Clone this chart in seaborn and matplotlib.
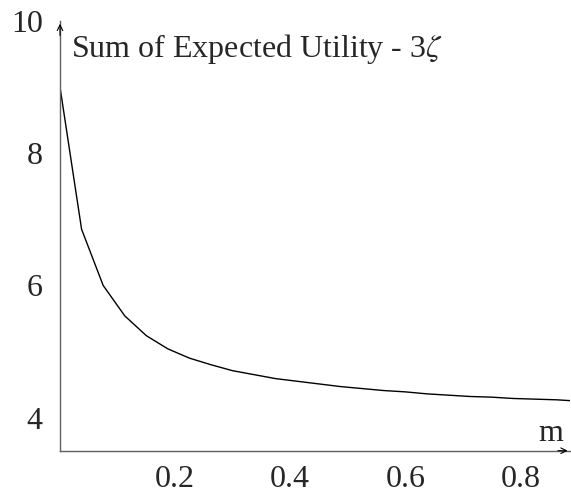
import matplotlib
matplotlib.use("Agg")
import matplotlib.pyplot as plt
import seaborn as sns
import pandas as pd

# values
m_vals = [0.0, 0.0375, 0.075, 0.1125, 0.15, 0.1875, 0.225, 0.2625, 0.3, 0.3375,
          0.375, 0.4125, 0.45, 0.4875, 0.525, 0.5625, 0.6, 0.6375, 0.675, 0.7125,
          0.75, 0.7875, 0.825, 0.8625, 0.9]
utility = [9.00, 6.85, 6.00, 5.54, 5.24, 5.04, 4.90, 4.80, 4.71, 4.65,
           4.59, 4.55, 4.51, 4.47, 4.44, 4.41, 4.39, 4.36, 4.34, 4.32,
           4.31, 4.29, 4.28, 4.27, 4.25]
x_ticks = [0.2, 0.4, 0.6, 0.8]
y_ticks = [4, 6, 8, 10]

df = pd.DataFrame({"m": m_vals, "u": utility})

sns.set_style("white")
plt.rcParams["font.family"] = ["Liberation Serif", "DejaVu Serif"]
plt.rcParams["mathtext.fontset"] = "stix"

fig = plt.figure(figsize=(5.71, 4.96), dpi=100)
ax = fig.add_axes([60 / 571, (496 - 450.7) / 496, 1 - 60 / 571 - 0.001, (450.7 - 21) / 496])

sns.lineplot(data=df, x="m", y="u", color="black", linewidth=1.0, ax=ax)

ax.set_xlim(0, 0.887)
ax.set_ylim(3.5, 10)
ax.set_xticks(x_ticks)
ax.set_xticklabels([str(t) for t in x_ticks])
ax.set_yticks(y_ticks)
ax.set_xlabel("")
ax.set_ylabel("")

for s in ["top", "right"]:
    ax.spines[s].set_visible(False)
for s in ["left", "bottom"]:
    ax.spines[s].set_color("#606060")
    ax.spines[s].set_linewidth(1.0)
ax.tick_params(direction="inout", length=7, width=0.8, color="#606060",
               labelsize=23)
ax.tick_params(axis="y", pad=9)
ax.tick_params(axis="x", pad=7)

# arrow heads
ax.annotate("", xy=(1.0, 0), xycoords="axes fraction", xytext=(0.97, 0),
            arrowprops=dict(arrowstyle="->", color="black", lw=0.8, mutation_scale=10))
ax.annotate("", xy=(0, 1.0), xycoords="axes fraction", xytext=(0, 0.96),
            arrowprops=dict(arrowstyle="->", color="black", lw=0.8, mutation_scale=10))

ax.text(0.021, 0.935, r"Sum of Expected Utility - 3$\zeta$", transform=ax.transAxes,
        fontsize=23, ha="left", va="center")
ax.text(0.985, 0.04, "m", transform=ax.transAxes, fontsize=23, ha="right", va="center")

fig.savefig("out.png", dpi=100)
